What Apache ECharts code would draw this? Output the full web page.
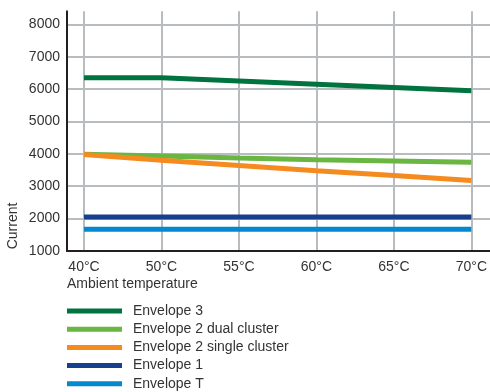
<!DOCTYPE html>
<html>
<head>
<meta charset="utf-8">
<script src="https://cdn.jsdelivr.net/npm/echarts@6/dist/echarts.min.js"></script>
<style>
  html, body { margin: 0; padding: 0; background: #fff; }
  #chart { width: 490px; height: 392px; }
</style>
</head>
<body>
<div id="chart"></div>
<script>
// Rated current versus ambient temperature for each envelope
const temperatures = ['40°C', '50°C', '55°C', '60°C', '65°C', '70°C'];
const envelope3 = [6350, 6350, 6250, 6150, 6050, 5950];
const envelope2Dual = [3990, 3930, 3870, 3820, 3780, 3740];
const envelope2Single = [3980, 3800, 3640, 3480, 3330, 3180];
const envelope1 = [2050, 2050, 2050, 2050, 2050, 2050];
const envelopeT = [1670, 1670, 1670, 1670, 1670, 1670];
const yTicks = { min: 1000, max: 8400, step: 1000 };

const FONT = 'Liberation Sans';
const TEXT = '#333333';
const GRID_GREY = '#b9bcbf';
const AXIS_DARK = '#231f20';

const seriesDefs = [
  { name: 'Envelope 3', data: envelope3, color: '#00733e', width: 5 },
  { name: 'Envelope 2 dual cluster', data: envelope2Dual, color: '#6ab643', width: 5 },
  { name: 'Envelope 2 single cluster', data: envelope2Single, color: '#f58a1f', width: 5 },
  { name: 'Envelope 1', data: envelope1, color: '#163f8d', width: 5 },
  { name: 'Envelope T', data: envelopeT, color: '#0489cf', width: 5 }
];

const chart = echarts.init(document.getElementById('chart'), null, { renderer: 'canvas' });

const gridTop = 11.35;
const gridBottom = 141;

chart.setOption({
  animation: false,
  backgroundColor: '#ffffff',
  grid: [
    // frame: y axis, horizontal gridlines and baseline
    { left: 67, right: 0, top: gridTop, bottom: gridBottom, containLabel: false },
    // plotting area between the first and last temperature
    { left: 84, right: 13, top: gridTop, bottom: gridBottom, containLabel: false }
  ],
  xAxis: [
    {
      gridIndex: 0, type: 'value', min: 0, max: 1,
      axisLine: { show: true, lineStyle: { color: AXIS_DARK, width: 2 } },
      axisTick: { show: false }, axisLabel: { show: false }, splitLine: { show: false }
    },
    {
      gridIndex: 1, type: 'category', boundaryGap: false, data: temperatures,
      axisLine: { show: false }, axisTick: { show: false },
      axisLabel: { color: TEXT, fontFamily: FONT, fontSize: 14, margin: 9 },
      splitLine: { show: true, lineStyle: { color: GRID_GREY, width: 2 } }
    }
  ],
  yAxis: [
    {
      gridIndex: 0, type: 'value', min: yTicks.min, max: yTicks.max, interval: yTicks.step,
      axisLine: { show: true, lineStyle: { color: AXIS_DARK, width: 2 } },
      axisTick: { show: false },
      axisLabel: {
        color: TEXT, fontFamily: FONT, fontSize: 14, margin: 7, showMaxLabel: false,
        padding: [0, 0, 7, 0],
        formatter: v => String(v)
      },
      splitLine: { show: true, showMinLine: false, showMaxLine: false, lineStyle: { color: GRID_GREY, width: 2 } }
    },
    {
      gridIndex: 1, type: 'value', min: yTicks.min, max: yTicks.max, interval: yTicks.step, show: false,
      splitLine: { show: false }
    }
  ],
  legend: {
    orient: 'vertical', left: 67, top: 304, height: 100, padding: 0,
    icon: 'rect', itemWidth: 55, itemHeight: 5, itemGap: 4.2,
    textStyle: { color: TEXT, fontFamily: FONT, fontSize: 14, lineHeight: 14, padding: [0, 0, 0, 6] },
    data: seriesDefs.map(s => s.name)
  },
  graphic: [
    {
      type: 'text', left: 67, top: 277,
      style: { text: 'Ambient temperature', fill: TEXT, font: '14px "' + FONT + '"' }
    },
    {
      type: 'text', x: 13, y: 226, rotation: Math.PI / 2,
      style: { text: 'Current', fill: TEXT, font: '14px "' + FONT + '"', align: 'center', verticalAlign: 'middle' }
    }
  ],
  series: seriesDefs.map(s => ({
    name: s.name, type: 'line', xAxisIndex: 1, yAxisIndex: 1,
    data: s.data, showSymbol: false, symbol: 'none',
    color: s.color,
    lineStyle: { color: s.color, width: s.width, cap: 'butt' }
  }))
});
</script>
</body>
</html>
